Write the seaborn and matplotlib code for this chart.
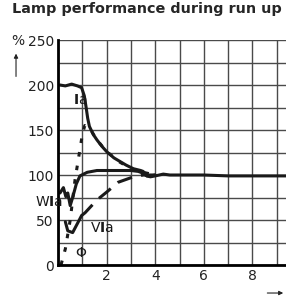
import matplotlib
matplotlib.use("Agg")
import matplotlib.pyplot as plt
import seaborn as sns

# run-up time (min) and relative values (%)
t_ia = [0.08, 0.3, 0.56, 0.8, 0.97, 1.08, 1.15, 1.22, 1.29, 1.45, 1.6, 1.8, 2.0, 2.3,
        2.55, 2.8, 3.1, 3.4, 3.5, 3.65, 3.8, 4.0, 4.33, 4.6, 5.0, 6.0, 7.0, 8.0, 9.4]
ia = [200, 199, 201, 199, 197, 188, 176, 163, 154, 145, 139, 132, 126, 119,
      115, 111, 107, 105, 104, 99, 98, 99, 101, 100, 100, 100, 99, 99, 99]

t_wia = [0.08, 0.22, 0.32, 0.4, 0.5, 0.6, 0.75, 0.9, 1.2, 1.6, 2.0, 2.5, 3.0, 3.3, 3.5, 3.65, 3.8, 4.0]
wia = [80, 86, 76, 80, 66, 75, 90, 99, 103, 105, 105, 105, 105, 104, 102, 99, 99, 100]

t_via = [0.3, 0.4, 0.6, 0.97, 1.11, 1.59, 2.0, 2.48, 3.0, 3.5, 4.0]
via = [48, 38, 36, 55, 58, 72, 81, 92, 97, 100, 100]

t_phi = [0.12, 0.3, 0.5, 0.7, 0.85, 1.0, 1.1, 1.3, 1.6, 2.0, 2.5, 3.0, 3.5, 4.0]
phi = [0, 18, 50, 95, 120, 145, 155, 152, 139, 126, 115, 107, 103, 100]

x_ticks = [2, 4, 6, 8]
y_ticks = [0, 50, 100, 150, 200, 250]

sns.set_style("white")
fig = plt.figure(figsize=(2.86, 2.99), dpi=100)
ax = fig.add_axes([0.203, 0.1137, 0.797, 0.7525])

c = "#1a1a1a"
sns.lineplot(x=t_ia, y=ia, ax=ax, color=c, lw=2.2, sort=False)
sns.lineplot(x=t_wia, y=wia, ax=ax, color=c, lw=2.2, sort=False)
sns.lineplot(x=t_via[:4], y=via[:4], ax=ax, color=c, lw=2.2, sort=False)
sns.lineplot(x=t_via[3:], y=via[3:], ax=ax, color=c, lw=2.2, sort=False).lines[-1].set_dashes((5, 3))
sns.lineplot(x=t_phi, y=phi, ax=ax, color=c, lw=2.2, sort=False).lines[-1].set_dashes((1.5, 3))

ax.set_xlim(0, 9.38)
ax.set_ylim(0, 250)
ax.set_xticks(range(0, 10), minor=True)
ax.set_yticks(range(0, 251, 25), minor=True)
ax.set_xticks(x_ticks)
ax.set_yticks(y_ticks)
ax.grid(which="both", color="#4a4a4a", lw=1.0)
ax.tick_params(which="both", length=0, labelsize=10, pad=3, colors="#222222")
for s in ["top", "right"]:
    ax.spines[s].set_visible(False)
for s in ["left", "bottom"]:
    ax.spines[s].set_color("black")
    ax.spines[s].set_linewidth(2)

lab = dict(color="#1a1a1a", fontsize=10, va="center")
ax.text(0.6, 183, r"$\mathbf{I}$a", **lab)
ax.text(-0.95, 70, r"W$\mathbf{I}$a", clip_on=False, **lab)
ax.text(1.32, 41, r"V$\mathbf{I}$a", **lab)
ax.text(0.72, 13, "Φ", **lab)

fig.text(0.042, 0.955, "Lamp performance during run up", fontsize=10.4, fontweight="bold")
fig.text(0.063, 0.862, "%", fontsize=10, ha="center", va="center")
fig.add_artist(matplotlib.patches.FancyArrowPatch((0.056, 0.735), (0.056, 0.83), transform=fig.transFigure,
                                                  arrowstyle="-|>", mutation_scale=6, lw=0.8, color="#222222"))
fig.add_artist(matplotlib.patches.FancyArrowPatch((0.925, 0.02), (1.0, 0.02), transform=fig.transFigure,
                                                  arrowstyle="-|>", mutation_scale=6, lw=0.8, color="#222222"))

fig.savefig("out.png", dpi=100)
